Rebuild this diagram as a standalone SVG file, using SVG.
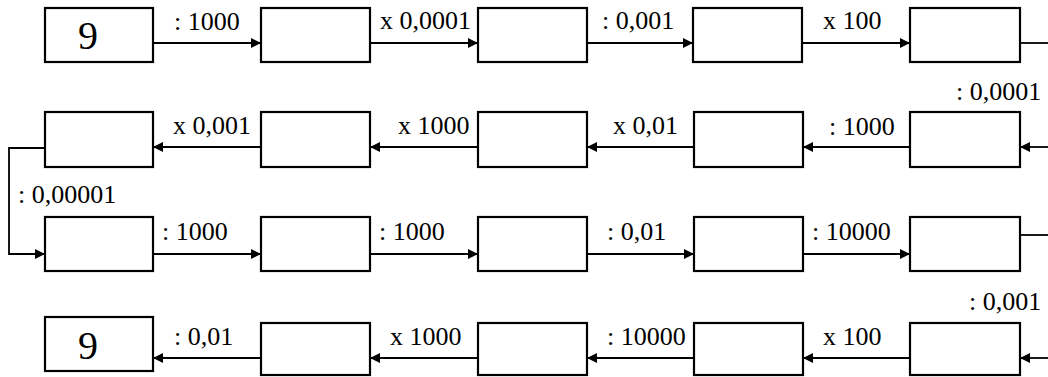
<svg xmlns="http://www.w3.org/2000/svg" width="1048" height="377" viewBox="0 0 1048 377">
<defs>
<style>
.box{fill:#fff;stroke:#000;stroke-width:2.2}
.ln{fill:none;stroke:#000;stroke-width:1.8}
.lb{font-family:"Liberation Serif","Times New Roman",serif;font-size:26px;fill:#000}
.big{font-family:"Liberation Serif","Times New Roman",serif;font-size:40px;fill:#000}
</style>
<marker id="ah" viewBox="0 0 10 10" refX="10" refY="5" markerWidth="10" markerHeight="10" markerUnits="userSpaceOnUse" orient="auto">
<path d="M0,0 L10,5 L0,10 z" fill="#000"/>
</marker>
</defs>
<g id="connectors">
<line class="ln" x1="153" y1="43" x2="261" y2="43" marker-end="url(#ah)"/>
<line class="ln" x1="370" y1="43" x2="478" y2="43" marker-end="url(#ah)"/>
<line class="ln" x1="587" y1="43" x2="693" y2="43" marker-end="url(#ah)"/>
<line class="ln" x1="802" y1="43" x2="910" y2="43" marker-end="url(#ah)"/>
<line class="ln" x1="1020" y1="43" x2="1048" y2="43"/>
<line class="ln" x1="1048" y1="147" x2="1020" y2="147" marker-end="url(#ah)"/>
<line class="ln" x1="910" y1="147" x2="803" y2="147" marker-end="url(#ah)"/>
<line class="ln" x1="694" y1="147" x2="587" y2="147" marker-end="url(#ah)"/>
<line class="ln" x1="478" y1="147" x2="370" y2="147" marker-end="url(#ah)"/>
<line class="ln" x1="261" y1="147" x2="153" y2="147" marker-end="url(#ah)"/>
<polyline class="ln" points="45,148 9,148 9,254 45,254" marker-end="url(#ah)"/>
<line class="ln" x1="153" y1="254" x2="261" y2="254" marker-end="url(#ah)"/>
<line class="ln" x1="370" y1="254" x2="478" y2="254" marker-end="url(#ah)"/>
<line class="ln" x1="587" y1="254" x2="694" y2="254" marker-end="url(#ah)"/>
<line class="ln" x1="803" y1="254" x2="910" y2="254" marker-end="url(#ah)"/>
<line class="ln" x1="1020" y1="235" x2="1048" y2="235"/>
<line class="ln" x1="1048" y1="358" x2="1020" y2="358" marker-end="url(#ah)"/>
<line class="ln" x1="910" y1="358" x2="803" y2="358" marker-end="url(#ah)"/>
<line class="ln" x1="694" y1="358" x2="587" y2="358" marker-end="url(#ah)"/>
<line class="ln" x1="478" y1="358" x2="370" y2="358" marker-end="url(#ah)"/>
<line class="ln" x1="261" y1="358" x2="153" y2="358" marker-end="url(#ah)"/>
</g>
<g id="labels">
<text class="lb" x="174" y="30">: 1000</text>
<text class="lb" x="380" y="29">x 0,0001</text>
<text class="lb" x="602" y="29">: 0,001</text>
<text class="lb" x="823" y="29">x 100</text>
<text class="lb" x="956" y="100">: 0,0001</text>
<text class="lb" x="829" y="135">: 1000</text>
<text class="lb" x="613" y="134">x 0,01</text>
<text class="lb" x="398" y="134">x 1000</text>
<text class="lb" x="173" y="134">x 0,001</text>
<text class="lb" x="18" y="203">: 0,00001</text>
<text class="lb" x="162" y="240">: 1000</text>
<text class="lb" x="379" y="240">: 1000</text>
<text class="lb" x="607" y="240">: 0,01</text>
<text class="lb" x="812" y="240">: 10000</text>
<text class="lb" x="969" y="310">: 0,001</text>
<text class="lb" x="823" y="345">x 100</text>
<text class="lb" x="607" y="345">: 10000</text>
<text class="lb" x="390" y="345">x 1000</text>
<text class="lb" x="174" y="345">: 0,01</text>
</g>
<g id="n1-1"><rect class="box" x="45" y="8" width="108" height="54"/><text class="big" x="78" y="49">9</text></g>
<g id="n1-2"><rect class="box" x="261" y="8" width="109" height="54"/></g>
<g id="n1-3"><rect class="box" x="478" y="8" width="109" height="54"/></g>
<g id="n1-4"><rect class="box" x="693" y="8" width="109" height="54"/></g>
<g id="n1-5"><rect class="box" x="910" y="8" width="110" height="54"/></g>
<g id="n2-1"><rect class="box" x="45" y="112" width="108" height="55"/></g>
<g id="n2-2"><rect class="box" x="261" y="112" width="109" height="55"/></g>
<g id="n2-3"><rect class="box" x="478" y="112" width="109" height="55"/></g>
<g id="n2-4"><rect class="box" x="694" y="112" width="109" height="55"/></g>
<g id="n2-5"><rect class="box" x="910" y="112" width="110" height="55"/></g>
<g id="n3-1"><rect class="box" x="45" y="217" width="108" height="54"/></g>
<g id="n3-2"><rect class="box" x="261" y="217" width="109" height="54"/></g>
<g id="n3-3"><rect class="box" x="478" y="217" width="109" height="54"/></g>
<g id="n3-4"><rect class="box" x="694" y="217" width="109" height="54"/></g>
<g id="n3-5"><rect class="box" x="910" y="217" width="110" height="54"/></g>
<g id="n4-1"><rect class="box" x="45" y="317" width="108" height="54"/><text class="big" x="78" y="359">9</text></g>
<g id="n4-2"><rect class="box" x="261" y="323" width="109" height="52"/></g>
<g id="n4-3"><rect class="box" x="478" y="323" width="109" height="52"/></g>
<g id="n4-4"><rect class="box" x="694" y="323" width="109" height="52"/></g>
<g id="n4-5"><rect class="box" x="910" y="323" width="110" height="52"/></g>
</svg>
